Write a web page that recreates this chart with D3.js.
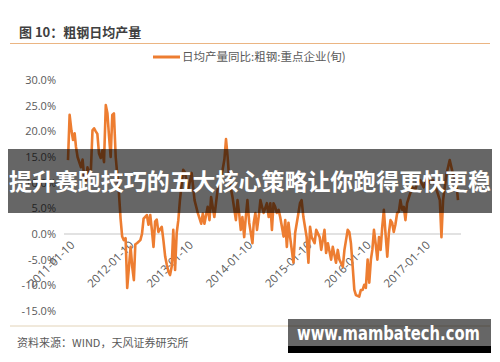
<!DOCTYPE html>
<html>
<head>
<meta charset="utf-8">
<script src="https://cdn.jsdelivr.net/npm/d3@7"></script>
<style>
  body { margin: 0; background: #fff; }
  svg { display: block; font-family: "Noto Sans CJK SC", "Noto Sans", sans-serif; }
</style>
</head>
<body>
<svg width="500" height="362"></svg>
<script>
// 日均产量同比:粗钢:重点企业(旬), % yoy
var dates = [
  "2011-01-10","2011-01-20","2011-01-31","2011-02-10","2011-02-20","2011-02-28","2011-03-10","2011-03-31",
  "2011-04-10","2011-04-20","2011-04-30","2011-05-10","2011-05-20","2011-05-31","2011-06-10","2011-06-20",
  "2011-06-30","2011-07-10","2011-07-20","2011-07-31","2011-08-10","2011-08-20","2011-08-31","2011-09-10",
  "2011-09-20","2011-09-30","2011-10-10","2011-10-20","2011-10-31","2011-11-20","2011-11-30","2011-12-10",
  "2011-12-20","2011-12-31",
  "2012-01-10","2012-01-31","2012-02-10","2012-02-20","2012-02-29","2012-03-10","2012-03-31","2012-04-10",
  "2012-04-20","2012-05-10","2012-05-20","2012-05-31","2012-06-10","2012-06-20","2012-06-30","2012-07-10",
  "2012-07-20","2012-08-10","2012-08-20","2012-08-31","2012-09-10","2012-09-20","2012-09-30","2012-10-10",
  "2012-10-20","2012-10-31","2012-11-10","2012-11-20","2012-11-30","2012-12-10","2012-12-20","2012-12-31",
  "2013-01-20","2013-02-10","2013-02-28","2013-03-20","2013-04-10","2013-04-20","2013-04-30","2013-05-20",
  "2013-05-31","2013-06-10","2013-06-30","2013-07-20","2013-08-20","2013-08-31","2013-09-10","2013-09-20",
  "2013-09-30","2013-10-20","2013-11-10","2013-11-20","2013-11-30","2013-12-10","2013-12-20","2013-12-31",
  "2014-01-10","2014-01-20","2014-01-31","2014-02-20","2014-02-28","2014-03-10","2014-03-20","2014-03-31",
  "2014-04-10","2014-04-20","2014-04-30","2014-05-20","2014-05-31","2014-06-10","2014-06-20","2014-06-30",
  "2014-07-10","2014-07-20","2014-07-31","2014-08-10","2014-08-31","2014-09-10","2014-09-20","2014-09-30",
  "2014-10-10","2014-10-31","2014-11-10","2014-11-30","2014-12-10","2014-12-20","2014-12-31",
  "2015-01-20","2015-01-31","2015-02-10","2015-02-20","2015-03-10","2015-03-20","2015-04-10","2015-04-20",
  "2015-05-10","2015-05-20","2015-05-31","2015-06-20","2015-06-30","2015-07-20","2015-07-31","2015-08-10",
  "2015-08-31","2015-09-10","2015-09-30","2015-10-10","2015-10-20","2015-10-31","2015-11-10","2015-11-20",
  "2015-12-10","2015-12-20","2015-12-31",
  "2016-01-10","2016-01-20","2016-01-31","2016-02-10","2016-02-20","2016-02-29","2016-03-10","2016-03-20",
  "2016-03-31","2016-04-10","2016-04-20","2016-04-30","2016-05-10","2016-05-20","2016-05-31","2016-06-10",
  "2016-06-20","2016-06-30","2016-07-10","2016-07-20","2016-07-31","2016-08-10","2016-08-20","2016-08-31",
  "2016-09-10","2016-09-20","2016-09-30","2016-10-10","2016-10-31","2016-11-20","2016-11-30","2016-12-20",
  "2017-01-10","2017-01-31","2017-02-20","2017-03-10","2017-03-31","2017-04-20","2017-04-30","2017-05-10",
  "2017-05-31","2017-06-20","2017-07-10","2017-07-31","2017-08-10"
];
var values = [
  14.4, 23.2, 20.2, 18.3, 19.6, 17.0, 15.0, 13.0,
  14.5, 11.0, 10.0, 13.0, 12.0, 12.4, 20.2, 20.6,
  20.0, 19.5, 15.7, 14.8, 16.3, 14.0, 25.1, 23.5,
  19.0, 15.0, 23.2, 23.5, 15.0, 8.0, 3.0, -0.5,
  -1.2, -0.8,
  -10.5, -2.5, -6.4, -9.0, -2.0, -1.8, -1.2, 0.0,
  3.0, 3.7, 1.8, 3.7, 0.8, -2.5, 2.4, 2.8,
  0.4, 1.4, -1.2, -4.4, -6.0, -7.3, -8.0, -6.4,
  0.8, -7.0, 0.2, 2.7, 6.6, 9.5, 12.5, 12.0,
  8.6, 11.9, 6.6, 4.1, 2.0, 4.0, 2.0, 5.3,
  2.7, 7.2, 3.3, 8.6, 12.5, 14.5, 18.5, 15.0,
  10.5, 7.2, 2.7, 6.6, 4.0, 0.8, 3.3, -0.6,
  3.3, 6.6, 2.2, -1.8, 2.2, 4.1, 0.8, 3.5,
  6.6, 5.3, 4.1, 6.0, 3.3, 6.0, 0.8, 6.0,
  5.3, 4.1, 4.7, 3.3, -0.5, 2.7, -2.5, 2.2,
  -0.6, -5.6, 0.2, 4.0, 6.0, 6.6, 3.3,
  -0.6, -5.6, 1.4, -0.6, -1.8, 0.8, -0.6, -3.1,
  0.8, -3.7, -1.8, -5.0, -2.5, -5.6, -3.1, -5.0,
  -6.4, -3.1, 0.8, 0.4, -1.8, -6.4, -10.9, -11.9,
  -12.2, -10.9, -10.9,
  -9.9, -10.5, -5.0, -9.5, -5.0, -3.1, 0.8, -1.8,
  -5.0, -0.6, -3.1, 1.4, 4.7, 0.2, -4.4, 0.2,
  2.7, 2.2, 0.4, 1.8, 4.1, 4.3, 6.6, 4.7,
  5.3, 2.7, 6.0, 7.0, 9.1, 8.6, 10.0, 10.5,
  9.1, 11.0, 9.9, 10.5, 8.6, 6.6, -0.6, 6.6,
  11.7, 14.4, 11.7, 9.9, 6.6
];
var yTicks = [-15, -10, -5, 0, 5, 10, 15, 20, 25, 30];
var xTicks = ["2011-01-10","2012-01-10","2013-01-10","2014-01-10","2015-01-10","2016-01-10","2017-01-10"];

var title = "图 10：粗钢日均产量";
var seriesName = "日均产量同比:粗钢:重点企业(旬)";
var source = "资料来源：WIND，天风证券研究所";
var banner = "提升赛跑技巧的五大核心策略让你跑得更快更稳";
var watermark = "www.mambatech.com";

var parse = d3.timeParse("%Y-%m-%d");
var data = dates.map(function(d, i) { return {date: parse(d), v: values[i]}; });

var svg = d3.select("svg");

// scales
var x = d3.scaleTime()
    .domain(d3.extent(data, function(d) { return d.date; }))
    .range([68, 458]);
var y = d3.scaleLinear().domain([-15, 30]).range([311, 80]);

// header
svg.append("text")
    .attr("x", 19).attr("y", 37)
    .style("font-size", "13px").style("font-weight", "bold")
    .style("fill", "#404040")
    .text(title);
svg.append("line")
    .attr("x1", 10).attr("x2", 490).attr("y1", 43.5).attr("y2", 43.5)
    .style("stroke", "#EBB582").style("stroke-width", 1);

// legend
svg.append("line")
    .attr("x1", 153).attr("x2", 180).attr("y1", 57).attr("y2", 57)
    .style("stroke", "#ED7D31").style("stroke-width", 3);
svg.append("text")
    .attr("x", 182).attr("y", 57).attr("dy", "0.35em")
    .style("font-size", "11.5px").style("fill", "#595959")
    .text(seriesName);

// y axis labels only
var yAxis = svg.append("g")
    .attr("transform", "translate(56,0)")
    .call(d3.axisLeft(y).tickValues(yTicks).tickSize(0).tickPadding(0)
      .tickFormat(function(d) { return d.toFixed(1) + "%"; }));
yAxis.select(".domain").remove();
yAxis.selectAll("text")
    .style("font-size", "11px").style("fill", "#595959")
    .style("font-family", "'Open Sans', 'Noto Sans', sans-serif");

// zero line
svg.append("line")
    .attr("x1", 64).attr("x2", 461)
    .attr("y1", y(0)).attr("y2", y(0))
    .style("stroke", "#D9D9D9").style("stroke-width", 1.5);

// x axis, rotated labels sitting on the zero line
var xAxis = svg.append("g")
    .attr("transform", "translate(0," + y(0) + ")")
    .call(d3.axisBottom(x).tickValues(xTicks.map(parse)).tickSize(0)
      .tickFormat(d3.timeFormat("%Y-%m-%d")));
xAxis.select(".domain").remove();
xAxis.selectAll("text")
    .attr("x", 0).attr("y", 0).attr("dy", "0.35em")
    .attr("text-anchor", "end")
    .attr("transform", "translate(4,9) rotate(-45)")
    .style("font-size", "11.5px").style("fill", "#595959")
    .style("font-family", "'Open Sans', 'Noto Sans', sans-serif");

// the series
var valueline = d3.line()
    .x(function(d) { return x(d.date); })
    .y(function(d) { return y(d.v); });
svg.append("path")
    .datum(data)
    .style("fill", "none")
    .style("stroke", "#ED7D31")
    .style("stroke-width", 2.6)
    .style("stroke-linejoin", "round")
    .attr("d", valueline);

// footer
svg.append("line")
    .attr("x1", 10).attr("x2", 490).attr("y1", 326).attr("y2", 326)
    .style("stroke", "#E2D3B8").style("stroke-width", 1);
svg.append("text")
    .attr("x", 17).attr("y", 343).attr("dy", "0.35em")
    .style("font-size", "11px").style("fill", "#595959")
    .text(source);

// overlay banner
svg.append("rect")
    .attr("x", 8).attr("y", 149).attr("width", 484).attr("height", 64)
    .style("fill", "rgba(0,0,0,0.6)");
svg.append("text")
    .attr("x", 250).attr("y", 182).attr("dy", "0.35em")
    .attr("text-anchor", "middle")
    .attr("textLength", 482).attr("lengthAdjust", "spacingAndGlyphs")
    .style("font-size", "23px").style("font-weight", "bold").style("fill", "#fff")
    .text(banner);

// watermark box
svg.append("rect")
    .attr("x", 288).attr("y", 319).attr("width", 203).attr("height", 27)
    .style("fill", "rgba(0,0,0,0.6)");
svg.append("rect")
    .attr("x", 288).attr("y", 346).attr("width", 203).attr("height", 7)
    .style("fill", "#000");
svg.append("text")
    .attr("x", 297).attr("y", 333).attr("dy", "0.35em")
    .attr("textLength", 183).attr("lengthAdjust", "spacingAndGlyphs")
    .style("font-size", "19px").style("font-weight", "bold").style("fill", "#fff")
    .style("font-family", "'DejaVu Sans', sans-serif")
    .text(watermark);
</script>
</body>
</html>
